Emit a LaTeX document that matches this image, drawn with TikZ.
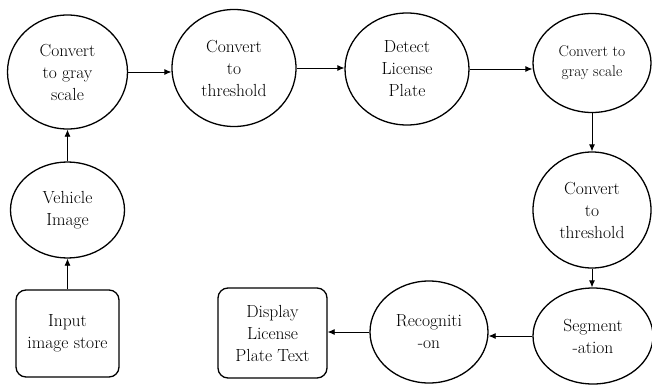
\documentclass[tikz,border=0pt]{standalone}
\usetikzlibrary{shapes.geometric,arrows.meta}
\begin{document}
\begin{tikzpicture}[x=1pt,y=-1pt,
  txt/.style={font=\fontsize{17.5}{22}\selectfont, align=center, inner sep=0pt},
  oval/.style={txt, draw, ellipse, line width=1.3pt},
  box/.style={txt, draw, rectangle, rounded corners=10pt, line width=1.3pt},
  arr/.style={-{Latex[length=7pt,width=6pt]}, line width=0.8pt}]
\useasboundingbox (0,0) rectangle (652,385);
\node[oval, minimum width=120pt, minimum height=114pt] (g1) at (67.5,72) {Convert\\to gray\\scale};
\node[oval, minimum width=124pt, minimum height=117pt] (t1) at (234,68) {Convert\\to\\threshold};
\node[oval, minimum width=124pt, minimum height=112pt] (d) at (407,69) {Detect\\License\\Plate};
\node[oval, minimum width=118pt, minimum height=99pt, font=\fontsize{15.5}{20}\selectfont] (g2) at (592,63) {Convert to\\gray scale};
\node[oval, minimum width=118pt, minimum height=116pt] (t2) at (592,210) {Convert\\to\\threshold};
\node[oval, minimum width=120pt, minimum height=96pt] (s) at (593,336) {Segment\\-ation};
\node[oval, minimum width=118pt, minimum height=102pt] (r) at (429,332) {Recogniti\\-on};
\node[box, minimum width=109pt, minimum height=90pt] (disp) at (272.5,333) {Display\\License\\Plate Text};
\node[box, minimum width=103pt, minimum height=87pt] (in) at (67.5,333.5) {Input\\image store};
\node[oval, minimum width=114pt, minimum height=96pt] (v) at (67.5,210) {Vehicle\\Image};
\draw[arr] (in.north) -- (v.south);
\draw[arr] (v.north) -- (g1.south);
\draw[arr] (g1.east) -- (g1.east -| t1.west);
\draw[arr] (t1.east) -- (t1.east -| d.west);
\draw[arr] (d.east) -- (d.east -| g2.west);
\draw[arr] (g2.south) -- (g2.south |- t2.north);
\draw[arr] (t2.south) -- (t2.south |- s.north);
\draw[arr] (s.west) -- (s.west -| r.east);
\draw[arr] (r.west) -- (r.west -| disp.east);
\end{tikzpicture}
\end{document}
